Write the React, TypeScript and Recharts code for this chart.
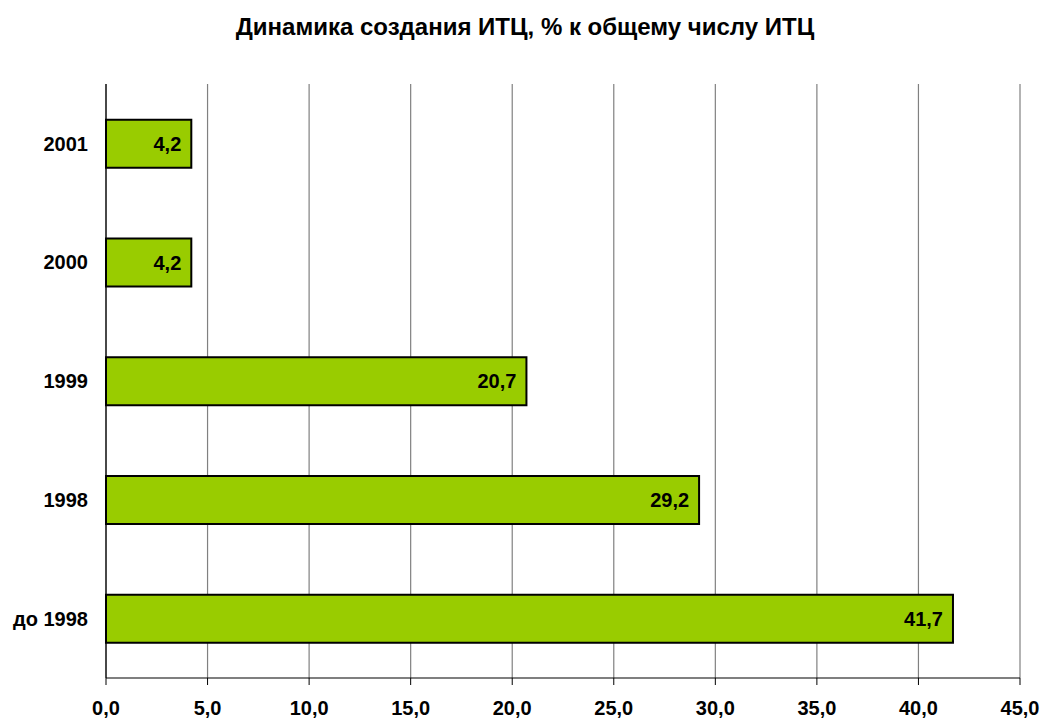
import React from 'react';
import { BarChart, Bar, XAxis, YAxis, CartesianGrid, LabelList } from 'recharts';

const categories = ['2001', '2000', '1999', '1998', 'до 1998'];
const values = [4.2, 4.2, 20.7, 29.2, 41.7];
const xTicks = [0, 5, 10, 15, 20, 25, 30, 35, 40, 45];
const boundaryTicks = [0, 1, 2, 3, 4, 5];
const title = 'Динамика создания ИТЦ, % к общему числу ИТЦ';

const data = categories.map((c, i) => ({ name: c, value: values[i] }));
const fmt = (v: number) => Number(v).toFixed(1).replace('.', ',');
const font = 'Arial, "Liberation Sans", sans-serif';

export default function App() {
  return (
    <div style={{ position: 'absolute', left: 0, top: 0, width: 1043, height: 720, background: '#fff', fontFamily: font }}>
      <div style={{ position: 'absolute', left: 0, top: 13, width: 1050, textAlign: 'center', fontSize: 24, fontWeight: 'bold', color: '#000', zIndex: 2 }}>
        {title}
      </div>
      <BarChart
        width={1043}
        height={720}
        data={data}
        layout="vertical"
        margin={{ top: 84, right: 23, bottom: 12, left: 6 }}
        barCategoryGap="30%"
        style={{ position: 'absolute', left: 0, top: 0 }}
      >
        <CartesianGrid horizontal={false} stroke="#808080" strokeWidth={1.2} />
        <XAxis
          type="number"
          domain={[0, 45]}
          ticks={xTicks}
          tickFormatter={fmt}
          axisLine={{ stroke: '#000', strokeWidth: 1.2 }}
          tickLine={{ stroke: '#000' }}
          tickSize={7}
          tickMargin={16}
          height={30}
          tick={{ fill: '#000', fontSize: 20, fontWeight: 'bold', fontFamily: font }}
          interval={0}
        />
        <YAxis
          yAxisId="bounds"
          type="number"
          domain={[0, 5]}
          ticks={boundaryTicks}
          width={0}
          axisLine={false}
          tickLine={{ stroke: '#000' }}
          tickSize={6}
          tickFormatter={() => ''}
          allowDataOverflow
        />
        <YAxis
          type="category"
          dataKey="name"
          width={100}
          axisLine={{ stroke: '#000', strokeWidth: 1.2 }}
          tickLine={false}
          tickMargin={12}
          tick={{ fill: '#000', fontSize: 20, fontWeight: 'bold', fontFamily: font }}
          interval={0}
        />
        <Bar dataKey="value" fill="#99CC00" stroke="#000" strokeWidth={2} isAnimationActive={false}>
          <LabelList
            dataKey="value"
            position="insideRight"
            offset={10}
            formatter={(v: any) => fmt(v)}
            style={{ fill: '#000', fontSize: 20, fontWeight: 'bold', fontFamily: font }}
          />
        </Bar>
      </BarChart>
    </div>
  );
}
